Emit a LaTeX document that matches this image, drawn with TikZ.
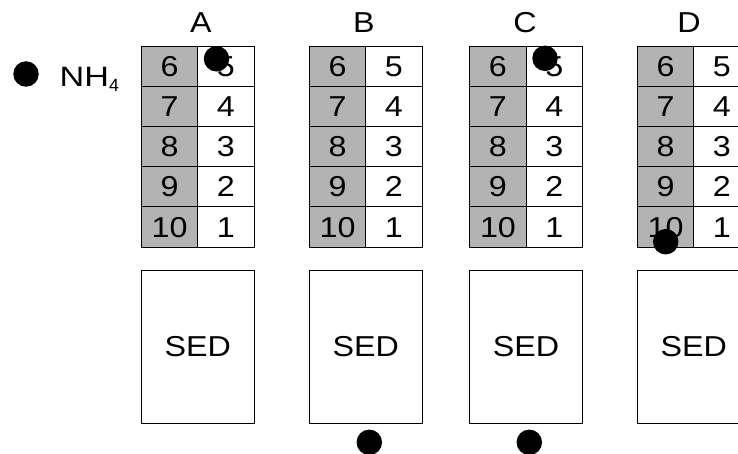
\documentclass[tikz,border=0pt]{standalone}
\usepackage{fontspec}
\setmainfont{Liberation Sans}[FakeStretch=1.12]
\newfontfamily\legfont{Liberation Sans}[FakeStretch=1.22]
\newfontfamily\subfont{Liberation Sans}
\definecolor{cellgray}{HTML}{B3B3B3}
\begin{document}
\begin{tikzpicture}[x=1pt,y=-1pt,
  bigfont/.style={font=\fontsize{28.8}{32}\selectfont},
  cellbase/.style={draw=black, line width=1pt, minimum width=56.3pt, minimum height=40.2pt, inner sep=0pt, anchor=north west, bigfont},
  cellg/.style={cellbase, fill=cellgray},
  cellw/.style={cellbase, fill=white},
  sedbox/.style={draw=black, line width=1pt, fill=white, minimum width=112.6pt, minimum height=152.7pt, inner sep=0pt, anchor=north west, bigfont},
  lbl/.style={inner sep=0pt, bigfont},
  dot/.style={circle, fill=black, minimum size=25.5pt, inner sep=0pt}]
\clip (0,0) rectangle (738,454);
\fill[white] (0,0) rectangle (738,454);
\foreach \g/\x/\lx in {A/141/201, B/309/364, C/469.3/525, D/637/689} {
  \node[lbl] (lab\g) at (\lx,23) {\g};
  \foreach \i in {0,...,4} {
    \pgfmathtruncatemacro{\lnum}{6+\i}
    \pgfmathtruncatemacro{\rnum}{5-\i}
    \node[cellg] (\g-l-\i) at (\x,45.7+40.2*\i) {\lnum};
    \node[cellw] (\g-r-\i) at (\x+56.3,45.7+40.2*\i) {\rnum};
  }
  \node[sedbox] (sed\g) at (\x,270) {SED};
}
% legend
\node[dot] (legdot) at (26,74) {};
\node[inner sep=0pt, anchor=base west] (legtext) at (59.5,86.9) {\fontsize{28}{32}\legfont NH\raisebox{-4.3pt}{\fontsize{17.7}{20}\subfont 4}};
% dots
\node[dot] (dotA) at (216.5,58.8) {};
\node[dot] (dotC) at (545,58.3) {};
\node[dot] (dotD) at (665.7,241.7) {};
\node[dot] (dotB2) at (369.3,442.3) {};
\node[dot] (dotC2) at (529.3,442.3) {};
\end{tikzpicture}
\end{document}
